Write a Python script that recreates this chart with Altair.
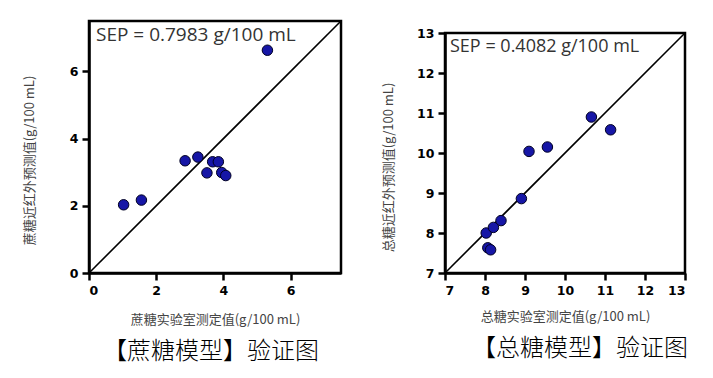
import altair as alt
import pandas as pd

# ---- data ----
# left panel: sucrose model (lab value vs NIR predicted, g/100 mL)
suc_lab = [1.03, 1.56, 2.86, 3.24, 3.51, 3.68, 3.85, 3.95, 4.07, 5.31]
suc_nir = [2.03, 2.17, 3.34, 3.45, 2.98, 3.31, 3.31, 2.99, 2.90, 6.63]
suc_domain = [0, 7.5]
suc_ticks = [0, 2, 4, 6]

# right panel: total sugar model
tot_lab = [8.03, 8.07, 8.14, 8.21, 8.40, 8.91, 9.10, 9.56, 10.66, 11.14]
tot_nir = [8.00, 7.63, 7.58, 8.14, 8.31, 8.86, 10.04, 10.15, 10.90, 10.58]
tot_domain = [7, 13]
tot_ticks = [7, 8, 9, 10, 11, 12, 13]

suc_texts = ["蔗糖实验室测定值(g/100 mL)", "蔗糖近红外预测值(g/100 mL)",
             "SEP = 0.7983 g/100 mL", "【蔗糖模型】验证图"]
tot_texts = ["总糖实验室测定值(g/100 mL)", "总糖近红外预测值(g/100 mL)",
             "SEP = 0.4082 g/100 mL", "【总糖模型】验证图"]

CJK = "Noto Sans CJK SC"


def panel(xs, ys, domain, ticks, size, texts, ytitle_x, ytitle_dy,
          x_title_pad, sep_size, sep_dx, sep_y, cap_dx):
    xtitle, ytitle, sep, caption = texts
    pts = pd.DataFrame({"lab": xs, "nir": ys})
    diag = pd.DataFrame({"lab": domain, "nir": domain})
    sep_df = pd.DataFrame({"t": [sep]})

    common = dict(labelFont="DejaVu Sans", labelFontWeight="bold",
                  labelFontSize=12.5, labelColor="black", labelPadding=4,
                  tickSize=7, tickWidth=2.5, tickColor="black", grid=False,
                  values=ticks)
    x_axis = alt.Axis(title=xtitle, titlePadding=x_title_pad, **common)
    y_axis = alt.Axis(title=ytitle, titleX=ytitle_x,
                      titleY=size / 2 + ytitle_dy, titleAlign="center",
                      titleBaseline="bottom", titleAngle=-90, **common)
    xs_ = alt.Scale(domain=domain, nice=False, zero=False)
    ys_ = alt.Scale(domain=domain, nice=False, zero=False)
    xenc = alt.X("lab:Q", scale=xs_, axis=x_axis)
    yenc = alt.Y("nir:Q", scale=ys_, axis=y_axis)

    line = alt.Chart(diag).mark_line(color="black", strokeWidth=1.6).encode(
        x=xenc, y=yenc)
    dots = alt.Chart(pts).mark_point(
        shape="circle", filled=True, fill="#1616a6", stroke="#000022",
        strokeWidth=1, size=110, opacity=1).encode(x=xenc, y=yenc)
    note = alt.Chart(sep_df).mark_text(
        align="left", baseline="alphabetic", font="Open Sans",
        fontSize=sep_size, color="#333333").encode(
        x=alt.value(sep_dx), y=alt.value(sep_y), text="t:N")

    return alt.layer(line, dots, note).properties(
        width=size, height=size,
        view=alt.ViewBackground(stroke="black", strokeWidth=2.5),
        title=alt.TitleParams(
            caption, orient="bottom", anchor="middle", frame="group",
            font=CJK, fontSize=24, fontWeight=300, color="black",
            offset=13, dx=cap_dx))


left = panel(suc_lab, suc_nir, suc_domain, suc_ticks, 252, suc_texts,
             ytitle_x=-53, ytitle_dy=13, x_title_pad=17,
             sep_size=19, sep_dx=7, sep_y=20, cap_dx=-4)
right = panel(tot_lab, tot_nir, tot_domain, tot_ticks, 240, tot_texts,
              ytitle_x=-50, ytitle_dy=14, x_title_pad=14,
              sep_size=18, sep_dx=5, sep_y=19, cap_dx=15)

spacer = alt.Chart(pd.DataFrame({"v": [0]})).mark_point(opacity=0).encode(
    x=alt.value(0), y=alt.value(0)).properties(
    width=240, height=1,
    view=alt.ViewBackground(stroke="transparent", strokeWidth=0))

right_col = alt.vconcat(spacer, right, spacing=1)

chart = alt.hconcat(left, right_col, spacing=34).properties(
    padding={"left": 13, "top": 8, "right": 5, "bottom": 5}
).configure_view(stroke="black", strokeWidth=2.5).configure_axis(
    titleFont=CJK, titleFontSize=13, titleFontWeight="normal",
    titleColor="#444444", domainColor="black", domainWidth=2.5)

chart.save("out.html", embed_options={"renderer": "svg", "actions": False})
